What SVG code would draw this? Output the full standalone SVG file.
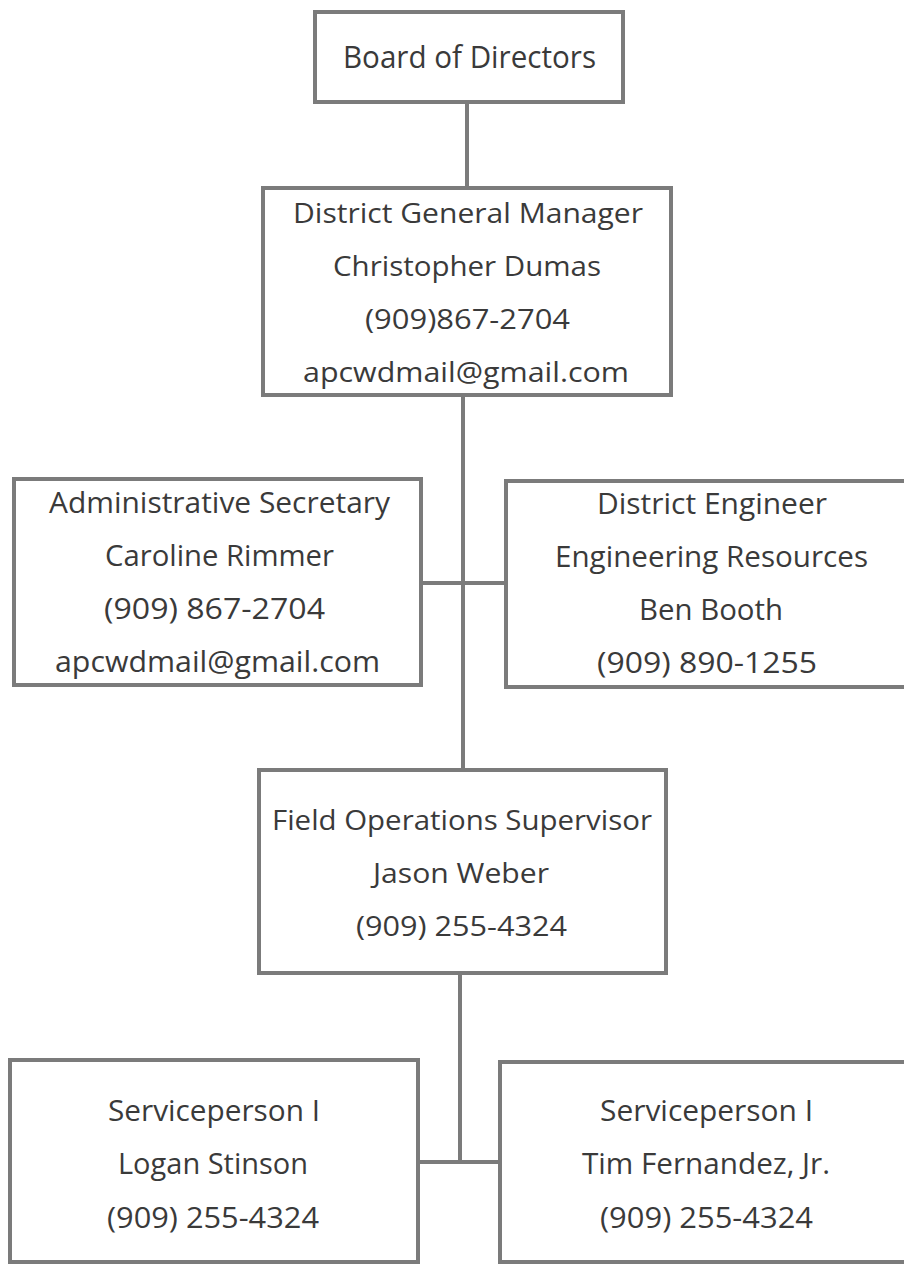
<svg xmlns="http://www.w3.org/2000/svg" width="904" height="1265" viewBox="0 0 904 1265">
<style>
.box{fill:#fff;stroke:#7b7b7b;stroke-width:4}
.con{stroke:#7b7b7b;stroke-width:4;fill:none}
text{font-family:"Open Sans","Noto Sans",sans-serif;font-size:28px;fill:#3a3a3a}
.big{font-size:31px}
.tall{font-size:30px}
</style>
<rect width="904" height="1265" fill="#fff"/>
<g id="connectors">
<line class="con" x1="467" y1="102" x2="467" y2="188"/>
<line class="con" x1="463" y1="395" x2="463" y2="770"/>
<line class="con" x1="421" y1="583" x2="506" y2="583"/>
<line class="con" x1="460" y1="973" x2="460" y2="1162"/>
<line class="con" x1="418" y1="1162" x2="500" y2="1162"/>
</g>
<g id="board">
<rect class="box" x="315" y="12" width="308" height="90"/>
<text class="big" x="343" y="68" textLength="253" lengthAdjust="spacingAndGlyphs">Board of Directors</text>
</g>
<g id="dgm">
<rect class="box" x="263" y="188" width="408" height="207"/>
<text x="293" y="223" textLength="350" lengthAdjust="spacingAndGlyphs">District General Manager</text>
<text x="333" y="276" textLength="268" lengthAdjust="spacingAndGlyphs">Christopher Dumas</text>
<text x="365" y="329" textLength="205" lengthAdjust="spacingAndGlyphs">(909)867-2704</text>
<text x="303" y="382" textLength="326" lengthAdjust="spacingAndGlyphs">apcwdmail@gmail.com</text>
</g>
<g id="admin">
<rect class="box" x="14" y="479" width="407" height="206"/>
<text class="tall" x="49" y="513" textLength="341" lengthAdjust="spacingAndGlyphs">Administrative Secretary</text>
<text class="tall" x="105" y="566" textLength="229" lengthAdjust="spacingAndGlyphs">Caroline Rimmer</text>
<text class="tall" x="104" y="619" textLength="221" lengthAdjust="spacingAndGlyphs">(909) 867-2704</text>
<text class="tall" x="55" y="672" textLength="325" lengthAdjust="spacingAndGlyphs">apcwdmail@gmail.com</text>
</g>
<g id="engineer">
<rect class="box" x="506" y="481" width="402" height="206"/>
<text class="tall" x="597" y="514" textLength="230" lengthAdjust="spacingAndGlyphs">District Engineer</text>
<text class="tall" x="555" y="567" textLength="313" lengthAdjust="spacingAndGlyphs">Engineering Resources</text>
<text class="tall" x="639" y="620" textLength="144" lengthAdjust="spacingAndGlyphs">Ben Booth</text>
<text class="tall" x="597" y="673" textLength="220" lengthAdjust="spacingAndGlyphs">(909) 890-1255</text>
</g>
<g id="field-ops">
<rect class="box" x="259" y="770" width="407" height="203"/>
<text x="272" y="830" textLength="380" lengthAdjust="spacingAndGlyphs">Field Operations Supervisor</text>
<text x="373" y="883" textLength="176" lengthAdjust="spacingAndGlyphs">Jason Weber</text>
<text x="356" y="936" textLength="211" lengthAdjust="spacingAndGlyphs">(909) 255-4324</text>
</g>
<g id="service-left">
<rect class="box" x="10" y="1060" width="408" height="202"/>
<text class="tall" x="108" y="1121" textLength="212" lengthAdjust="spacingAndGlyphs">Serviceperson I</text>
<text class="tall" x="118" y="1174" textLength="190" lengthAdjust="spacingAndGlyphs">Logan Stinson</text>
<text class="tall" x="107" y="1228" textLength="212" lengthAdjust="spacingAndGlyphs">(909) 255-4324</text>
</g>
<g id="service-right">
<rect class="box" x="500" y="1062" width="408" height="200"/>
<text class="tall" x="600" y="1121" textLength="213" lengthAdjust="spacingAndGlyphs">Serviceperson I</text>
<text class="tall" x="582" y="1174" textLength="248" lengthAdjust="spacingAndGlyphs">Tim Fernandez, Jr.</text>
<text class="tall" x="600" y="1228" textLength="213" lengthAdjust="spacingAndGlyphs">(909) 255-4324</text>
</g>
</svg>
